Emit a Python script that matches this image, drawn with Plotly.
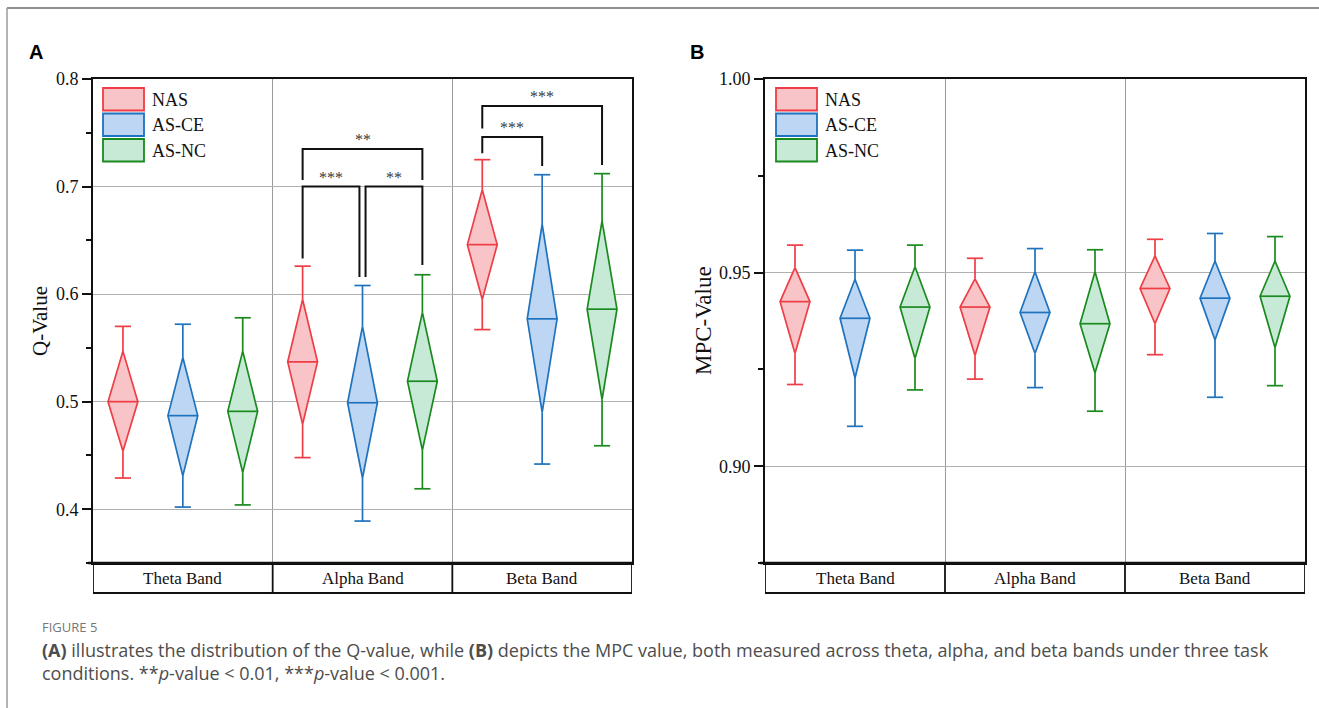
import plotly.graph_objects as go

W, H = 1319, 708

bands = ["Theta Band", "Alpha Band", "Beta Band"]
groups = ["NAS", "AS-CE", "AS-NC"]

# ---------------- Panel A : Q-Value ----------------
q_nas_low   = [0.429, 0.448, 0.567]
q_nas_q1    = [0.454, 0.479, 0.595]
q_nas_med   = [0.500, 0.537, 0.646]
q_nas_q3    = [0.547, 0.595, 0.697]
q_nas_high  = [0.570, 0.626, 0.725]

q_asce_low  = [0.402, 0.389, 0.442]
q_asce_q1   = [0.431, 0.429, 0.490]
q_asce_med  = [0.487, 0.499, 0.577]
q_asce_q3   = [0.541, 0.570, 0.665]
q_asce_high = [0.572, 0.608, 0.711]

q_asnc_low  = [0.404, 0.419, 0.459]
q_asnc_q1   = [0.434, 0.455, 0.502]
q_asnc_med  = [0.491, 0.519, 0.586]
q_asnc_q3   = [0.547, 0.583, 0.668]
q_asnc_high = [0.578, 0.618, 0.712]

q_ticks = [0.4, 0.5, 0.6, 0.7, 0.8]
q_ticktext = ["0.4", "0.5", "0.6", "0.7", "0.8"]

# significance brackets (panel A)
q_brk_x0    = [1.1667, 1.517, 1.1667, 2.1667, 2.1667]
q_brk_x1    = [1.483, 1.8333, 1.8333, 2.5, 2.8333]
q_brk_bar   = [0.700, 0.700, 0.735, 0.746, 0.775]
q_brk_left  = [0.633, 0.616, 0.706, 0.731, 0.754]
q_brk_right = [0.616, 0.627, 0.706, 0.719, 0.720]
q_brk_label = ["***", "**", "**", "***", "***"]

# ---------------- Panel B : MPC-Value ----------------
m_nas_low   = [0.9211, 0.9225, 0.9288]
m_nas_q1    = [0.9291, 0.9286, 0.9368]
m_nas_med   = [0.9425, 0.9411, 0.9459]
m_nas_q3    = [0.9513, 0.9484, 0.9543]
m_nas_high  = [0.9571, 0.9537, 0.9586]

m_asce_low  = [0.9103, 0.9203, 0.9178]
m_asce_q1   = [0.9228, 0.9291, 0.9326]
m_asce_med  = [0.9382, 0.9397, 0.9434]
m_asce_q3   = [0.9483, 0.9502, 0.9530]
m_asce_high = [0.9558, 0.9562, 0.9601]

m_asnc_low  = [0.9197, 0.9142, 0.9208]
m_asnc_q1   = [0.9278, 0.9241, 0.9306]
m_asnc_med  = [0.9411, 0.9368, 0.9439]
m_asnc_q3   = [0.9515, 0.9502, 0.9530]
m_asnc_high = [0.9571, 0.9559, 0.9593]

m_ticks = [0.90, 0.95, 1.00]
m_ticktext = ["0.90", "0.95", "1.00"]

# ---------------- styles ----------------
line_colors = ["#ee3d44", "#1f72bd", "#1a8a1f"]
fill_colors = ["#f8c4c7", "#bdd6f3", "#c6ead5"]
offsets = [1 / 6, 0.5, 5 / 6]
HALF_W = 0.083
CAP_W = 0.045
SERIF = "Liberation Serif"
SANS = "Liberation Sans"

qA = [
    (q_nas_low, q_nas_q1, q_nas_med, q_nas_q3, q_nas_high),
    (q_asce_low, q_asce_q1, q_asce_med, q_asce_q3, q_asce_high),
    (q_asnc_low, q_asnc_q1, q_asnc_med, q_asnc_q3, q_asnc_high),
]
mB = [
    (m_nas_low, m_nas_q1, m_nas_med, m_nas_q3, m_nas_high),
    (m_asce_low, m_asce_q1, m_asce_med, m_asce_q3, m_asce_high),
    (m_asnc_low, m_asnc_q1, m_asnc_med, m_asnc_q3, m_asnc_high),
]


def px_x(x):
    return x / W


def px_y(y):
    return 1 - y / H


fig = go.Figure()


def add_panel(data, xa, ya):
    for gi, (lo, q1, med, q3, hi) in enumerate(data):
        for bi in range(len(bands)):
            c = bi + offsets[gi]
            fig.add_trace(go.Scatter(
                x=[c, c, None, c, c, None, c - CAP_W, c + CAP_W, None, c - CAP_W, c + CAP_W],
                y=[hi[bi], q3[bi], None, q1[bi], lo[bi], None, hi[bi], hi[bi], None, lo[bi], lo[bi]],
                mode="lines", line=dict(color=line_colors[gi], width=1.7),
                xaxis=xa, yaxis=ya, showlegend=False, hoverinfo="skip"))
            fig.add_trace(go.Scatter(
                x=[c, c + HALF_W, c, c - HALF_W, c],
                y=[q1[bi], med[bi], q3[bi], med[bi], q1[bi]],
                mode="lines", fill="toself", fillcolor=fill_colors[gi],
                line=dict(color=line_colors[gi], width=1.7),
                xaxis=xa, yaxis=ya, showlegend=False, name=groups[gi]))
            fig.add_trace(go.Scatter(
                x=[c - HALF_W, c + HALF_W], y=[med[bi], med[bi]],
                mode="lines", line=dict(color=line_colors[gi], width=1.7),
                xaxis=xa, yaxis=ya, showlegend=False, hoverinfo="skip"))


add_panel(qA, "x", "y")
add_panel(mB, "x2", "y2")

shapes = []
annotations = []
for x0, x1, yb, yl, yr, lab in zip(q_brk_x0, q_brk_x1, q_brk_bar, q_brk_left, q_brk_right, q_brk_label):
    fig.add_trace(go.Scatter(
        x=[x0, x0, x1, x1], y=[yl, yb, yb, yr], mode="lines",
        line=dict(color="#111111", width=2), xaxis="x", yaxis="y",
        showlegend=False, hoverinfo="skip"))
    annotations.append(dict(x=(x0 + x1) / 2, y=yb, xref="x", yref="y", text=lab,
                            showarrow=False, xanchor="center", yanchor="bottom", yshift=-1,
                            font=dict(family=SERIF, size=16, color="#3a3a3a")))

PLOT_TOP, PLOT_BOT, BOX_BOT = 79, 563, 593
panels = [
    dict(x0=93, x1=632, xref="x", ylab="Q-Value", ylabx=40, ylabsize=21, lab="A", labx=36, legx=103),
    dict(x0=765, x1=1305, xref="x2", ylab="MPC-Value", ylabx=703, ylabsize=23, lab="B", labx=697, legx=776),
]

for p in panels:
    shapes.append(dict(type="line", xref="paper", yref="paper",
                       x0=px_x(p["x0"] - 5), x1=px_x(p["x1"]), y0=px_y(PLOT_BOT), y1=px_y(PLOT_BOT),
                       line=dict(color="#111111", width=2.6)))
    shapes.append(dict(type="line", xref="paper", yref="paper",
                       x0=px_x(p["x0"]), x1=px_x(p["x1"]), y0=px_y(BOX_BOT), y1=px_y(BOX_BOT),
                       line=dict(color="#111111", width=1.8)))
    for xv in [0, 1, 2, 3]:
        shapes.append(dict(type="line", xref=p["xref"], yref="paper",
                           x0=xv, x1=xv, y0=px_y(PLOT_BOT), y1=px_y(BOX_BOT),
                           line=dict(color="#111111", width=1.8)))
    for bi, b in enumerate(bands):
        annotations.append(dict(x=bi + 0.5, y=px_y(578), xref=p["xref"], yref="paper",
                                text=b, showarrow=False, xanchor="center", yanchor="middle",
                                font=dict(family=SERIF, size=17, color="#111111")))
    annotations.append(dict(x=px_x(p["ylabx"]), y=px_y(321), xref="paper", yref="paper",
                            text=p["ylab"], textangle=-90, showarrow=False,
                            xanchor="center", yanchor="middle",
                            font=dict(family=SERIF, size=p["ylabsize"], color="#111111")))
    annotations.append(dict(x=px_x(p["labx"]), y=px_y(52), xref="paper", yref="paper",
                            text="<b>" + p["lab"] + "</b>", showarrow=False,
                            xanchor="center", yanchor="middle",
                            font=dict(family=SANS, size=20, color="#000000")))
    tops = [88, 113.5, 139]
    for gi, g in enumerate(groups):
        shapes.append(dict(type="rect", xref="paper", yref="paper",
                           x0=px_x(p["legx"]), x1=px_x(p["legx"] + 41),
                           y0=px_y(tops[gi]), y1=px_y(tops[gi] + 22.5),
                           fillcolor=fill_colors[gi], line=dict(color=line_colors[gi], width=1.8)))
        annotations.append(dict(x=px_x(p["legx"] + 47), y=px_y(tops[gi] + 11.5),
                                xref="paper", yref="paper", text=g, showarrow=False,
                                xanchor="left", yanchor="middle",
                                font=dict(family=SERIF, size=18, color="#111111")))

shapes.append(dict(type="line", xref="paper", yref="paper", x0=px_x(7), x1=1.0,
                   y0=px_y(8), y1=px_y(8), line=dict(color="#8f8f8f", width=2)))
shapes.append(dict(type="line", xref="paper", yref="paper", x0=px_x(7), x1=px_x(7),
                   y0=px_y(8), y1=0, line=dict(color="#9a9a9a", width=1.5)))

annotations.append(dict(x=px_x(40), y=px_y(627), xref="paper", yref="paper",
                        text="FIGURE 5", showarrow=False, xanchor="left", yanchor="middle",
                        font=dict(family="Open Sans", size=13, color="#777777")))
annotations.append(dict(x=px_x(40), y=px_y(650), xref="paper", yref="paper",
                        text="<b>(A)</b> illustrates the distribution of the Q-value, while <b>(B)</b> depicts the MPC value, both measured across theta, alpha, and beta bands under three task",
                        showarrow=False, xanchor="left", yanchor="middle",
                        font=dict(family="Open Sans", size=18, color="#4d4d4d")))
annotations.append(dict(x=px_x(40), y=px_y(673), xref="paper", yref="paper",
                        text="conditions. **<i>p</i>-value &lt; 0.01, ***<i>p</i>-value &lt; 0.001.",
                        showarrow=False, xanchor="left", yanchor="middle",
                        font=dict(family="Open Sans", size=18, color="#4d4d4d")))

xa_common = dict(range=[0, 3], tickvals=[1, 2], showticklabels=False, ticks="",
                 showgrid=True, gridcolor="#9a9a9a", gridwidth=1.3, zeroline=False,
                 showline=True, mirror=True, linecolor="#111111", linewidth=1.8, fixedrange=True)
ya_common = dict(showgrid=True, gridcolor="#b0b0b0", gridwidth=1.3, zeroline=False,
                 showline=True, mirror=True, linecolor="#111111", linewidth=1.8,
                 ticks="outside", ticklen=9, tickwidth=1.8, tickcolor="#111111",
                 tickfont=dict(family=SERIF, size=18, color="#111111"), fixedrange=True,
                 automargin=False)

fig.update_layout(
    width=W, height=H, margin=dict(l=0, r=0, t=0, b=0, pad=0),
    paper_bgcolor="white", plot_bgcolor="white", showlegend=False,
    font=dict(family=SERIF),
    xaxis=dict(domain=[px_x(93), px_x(632)], anchor="y", automargin=False, **xa_common),
    yaxis=dict(domain=[px_y(PLOT_BOT), px_y(PLOT_TOP)], anchor="x", range=[0.35, 0.8],
               tickvals=q_ticks, ticktext=q_ticktext,
               minor=dict(ticks="outside", ticklen=5, tickwidth=1.5, tickcolor="#111111",
                          tick0=0.35, dtick=0.05, showgrid=False), **ya_common),
    xaxis2=dict(domain=[px_x(765), px_x(1305)], anchor="y2", automargin=False, **xa_common),
    yaxis2=dict(domain=[px_y(PLOT_BOT), px_y(PLOT_TOP)], anchor="x2", range=[0.875, 1.0],
                tickvals=m_ticks, ticktext=m_ticktext,
                minor=dict(ticks="outside", ticklen=5, tickwidth=1.5, tickcolor="#111111",
                           tick0=0.875, dtick=0.025, showgrid=False), **ya_common),
    shapes=shapes, annotations=annotations,
)

fig.write_html("out.html", config={"displayModeBar": False},
               post_script="document.body.style.margin='0px';document.body.style.overflow='hidden';")
